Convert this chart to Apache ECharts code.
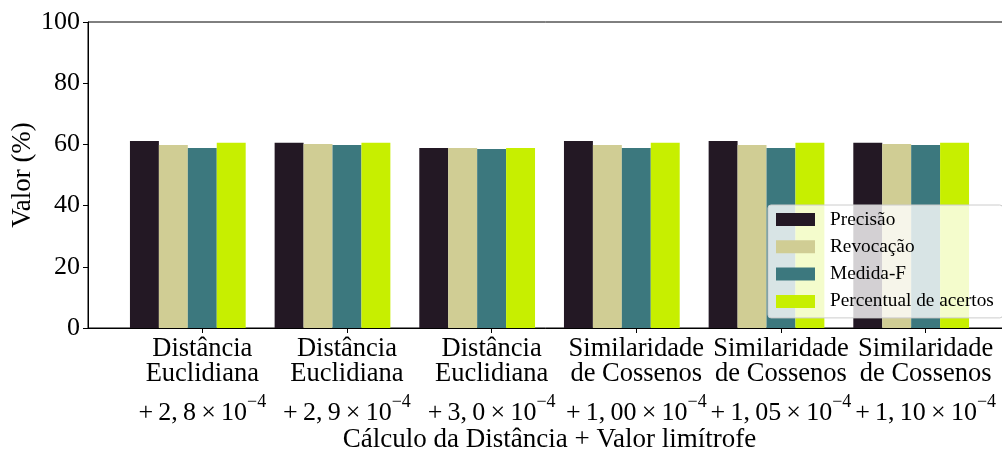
<!DOCTYPE html>
<html>
<head>
<meta charset="utf-8">
<script src="https://cdn.jsdelivr.net/npm/echarts@6/dist/echarts.min.js"></script>
<style>
html,body{margin:0;padding:0;background:#fff;}
#chart{width:1002px;height:455px;}
</style>
</head>
<body>
<div id="chart"></div>
<script>
// ---- data ----
const methodLine1 = ['Distância', 'Distância', 'Distância', 'Similaridade', 'Similaridade', 'Similaridade'];
const methodLine2 = ['Euclidiana', 'Euclidiana', 'Euclidiana', 'de Cossenos', 'de Cossenos', 'de Cossenos'];
const thresholdMantissa = ['2, 8', '2, 9', '3, 0', '1, 00', '1, 05', '1, 10'];
const thresholdExponent = '−4';
const seriesNames = ['Precisão', 'Revocação', 'Medida-F', 'Percentual de acertos'];
const precisao   = [61.1, 60.5, 58.8, 61.1, 61.1, 60.5];
const revocacao  = [59.8, 60.1, 58.8, 59.8, 59.8, 60.1];
const medidaF    = [58.8, 59.8, 58.5, 58.8, 58.8, 59.8];
const percentual = [60.5, 60.5, 58.8, 60.5, 60.5, 60.5];
const yTicks = [0, 20, 40, 60, 80, 100];

// ---- styles ----
const colors = ['#231824', '#d0cd94', '#3c787e', '#c7ef00'];
const FONT = "'Liberation Serif', 'DejaVu Serif', serif";
const THIN = '\u2009';
const xMin = -0.79, xMax = 5.59;
const gridLeft = 88, gridRight = -9;
const gridWidth = 1002 - gridLeft - gridRight;
const barW = 0.2 * gridWidth / (xMax - xMin);
const offsets = [-0.4, -0.2, 0, 0.2];
const allValues = [precisao, revocacao, medidaF, percentual];
const tickPositions = methodLine1.map((_, i) => i);

function mathLine(i) {
  const mant = thresholdMantissa[i].replace(' ', THIN);
  return '{m|+' + THIN + mant + THIN + '×' + THIN + '10}{s|' + thresholdExponent + '}';
}

const chart = echarts.init(document.getElementById('chart'), null, {renderer: 'canvas'});
chart.setOption({
  animation: false,
  textStyle: {fontFamily: FONT},
  grid: {left: gridLeft, right: gridRight, top: 22, bottom: 127, containLabel: false, outerBoundsMode: 'none',
    show: true, borderColor: '#000', borderWidth: 1, backgroundColor: 'transparent'},
  legend: {
    orient: 'vertical',
    left: 768, top: 205,
    padding: [5, 9, 7, 8],
    itemWidth: 39, itemHeight: 13, itemGap: 8.3,
    icon: 'rect',
    backgroundColor: 'rgba(255,255,255,0.8)',
    borderColor: '#cccccc', borderWidth: 1, borderRadius: 3,
    textStyle: {fontFamily: FONT, fontSize: 19.3, color: '#000', padding: [0, 0, 0, 10]},
    data: seriesNames
  },
  xAxis: {
    type: 'value', min: xMin, max: xMax,
    name: 'Cálculo da Distância + Valor limítrofe',
    nameLocation: 'middle', nameGap: 98,
    nameMoveOverlap: false,
    nameTextStyle: {fontFamily: FONT, fontSize: 27, color: '#000'},
    axisLine: {show: true, onZero: false, lineStyle: {color: '#000', width: 1}},
    axisTick: {show: true, inside: false, length: 5, lineStyle: {color: '#000'}, customValues: tickPositions},
    splitLine: {show: false},
    axisLabel: {
      customValues: tickPositions,
      hideOverlap: false,
      margin: 9,
      color: '#000',
      formatter: function (val) {
        const i = Math.round(val);
        return '{a|' + methodLine1[i] + '}\n{a|' + methodLine2[i] + '}\n' + mathLine(i);
      },
      rich: {
        a: {fontFamily: FONT, fontSize: 26.5, lineHeight: 25, color: '#000'},
        m: {fontFamily: FONT, fontSize: 26, lineHeight: 52, color: '#000'},
        s: {fontFamily: FONT, fontSize: 18, lineHeight: 20, verticalAlign: 'top', padding: [6, 0, 0, 0], color: '#000'}
      }
    }
  },
  yAxis: {
    type: 'value', min: 0, max: 100, interval: 20,
    name: 'Valor (%)', nameLocation: 'middle', nameGap: 52, nameRotate: 90,
    nameMoveOverlap: false,
    nameTextStyle: {fontFamily: FONT, fontSize: 27, color: '#000'},
    axisLine: {show: true, onZero: false, lineStyle: {color: '#000', width: 1}},
    axisTick: {show: true, inside: false, length: 5, lineStyle: {color: '#000'}},
    splitLine: {show: false},
    axisLabel: {margin: 8, fontFamily: FONT, fontSize: 26, color: '#000', hideOverlap: false,
      formatter: v => yTicks.includes(v) ? String(v) : ''}
  },
  series: seriesNames.map((name, s) => ({
    name: name,
    type: 'bar',
    barWidth: barW,
    barGap: '-100%',
    itemStyle: {color: colors[s]},
    z: 2,
    data: allValues[s].map((v, i) => [i + offsets[s], v])
  }))
});
</script>
</body>
</html>
